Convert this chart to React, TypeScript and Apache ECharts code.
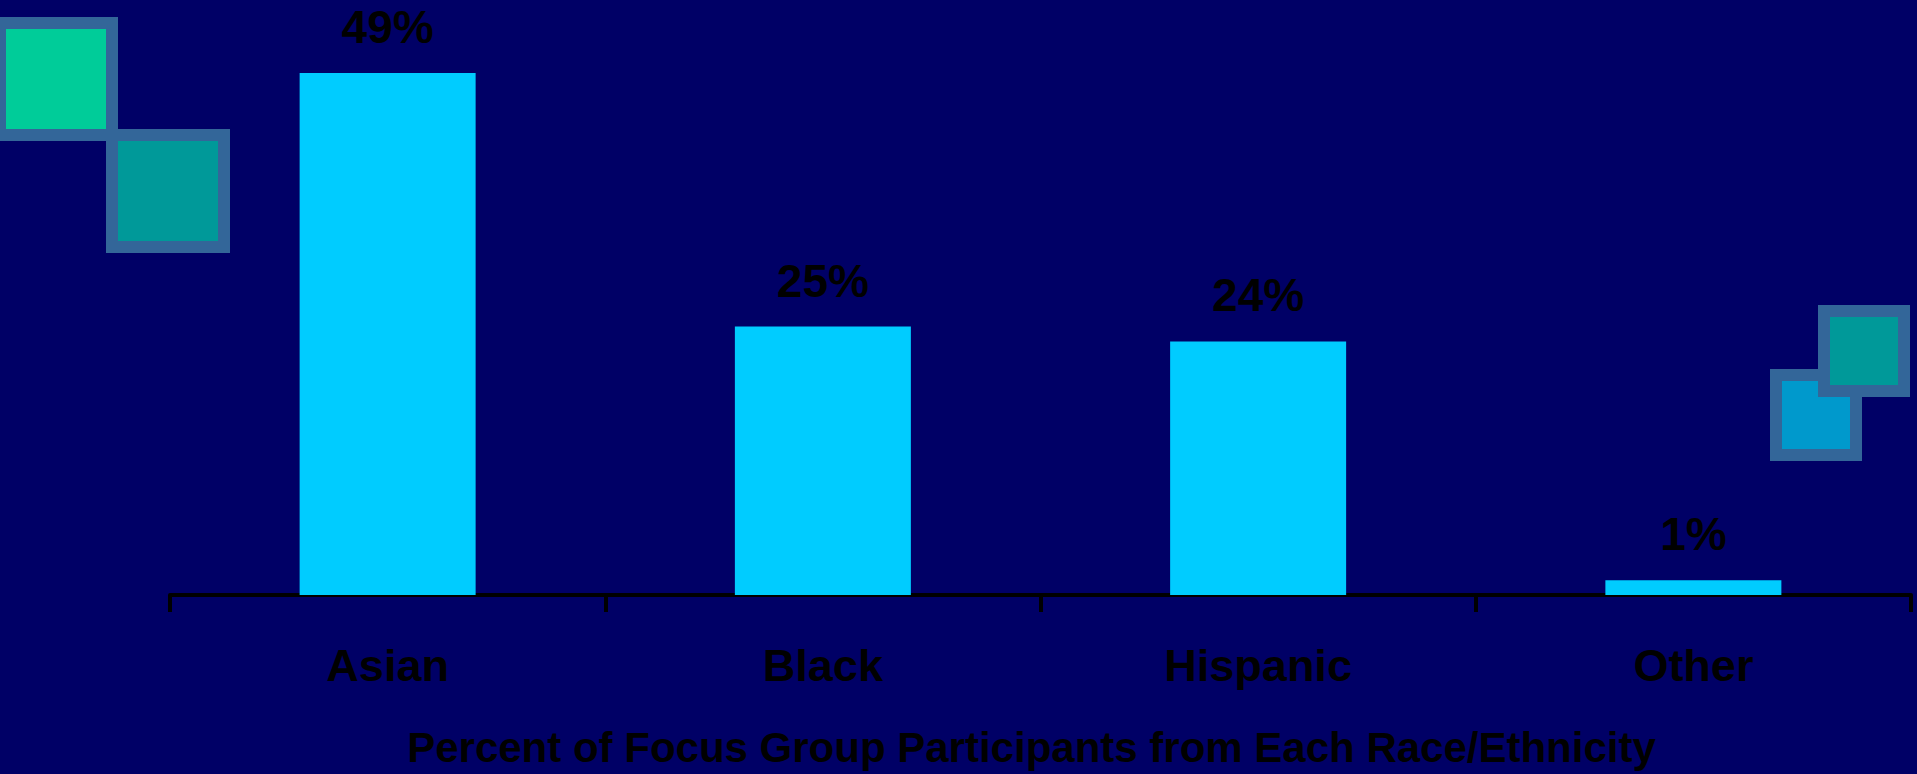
import React, { useEffect, useRef } from "react";
import * as echarts from "echarts";

const categories = ["Asian", "Black", "Hispanic", "Other"];
const percentValues = [49.2, 25.3, 23.9, 1.4];
const axisTitle = "Percent of Focus Group Participants from Each Race/Ethnicity";

const FONT = "'Liberation Sans', Arial, Helvetica, sans-serif";

export default function App() {
  const ref = useRef<HTMLDivElement>(null);

  useEffect(() => {
    if (!ref.current) return;
    const chart = echarts.init(ref.current, undefined, { renderer: "svg" });
    const square = (x: number, y: number, size: number, fill: string, z: number) => ({
      type: "rect",
      shape: { x, y, width: size, height: size },
      style: { fill, stroke: "#336699", lineWidth: 12 },
      z,
      silent: true,
    });
    chart.setOption({
      animation: false,
      backgroundColor: "#000066",
      grid: { left: 170, right: 6, top: 64.5, bottom: 179, containLabel: false },
      xAxis: {
        type: "category",
        data: categories,
        boundaryGap: true,
        axisLine: { show: true, lineStyle: { color: "#000000", width: 4 } },
        axisTick: { show: true, length: 17, lineStyle: { color: "#000000", width: 4 } },
        axisLabel: {
          margin: 48,
          color: "#000000",
          fontFamily: FONT,
          fontWeight: "bold",
          fontSize: 45,
        },
        name: axisTitle,
        nameLocation: "middle",
        nameGap: 131,
        nameTextStyle: {
          color: "#000000",
          fontFamily: FONT,
          fontWeight: "bold",
          fontSize: 42,
          padding: [0, 18, 0, 0],
        },
      },
      yAxis: {
        type: "value",
        min: 0,
        max: 50,
        show: false,
        splitLine: { show: false },
      },
      series: [
        {
          type: "bar",
          data: percentValues,
          barWidth: 176,
          itemStyle: { color: "#00CCFF" },
          label: {
            show: true,
            position: "top",
            distance: 28,
            lineHeight: 36,
            color: "#000000",
            fontFamily: FONT,
            fontWeight: "bold",
            fontSize: 46,
            formatter: (p: any) => `${Math.round(p.value)}%`,
          },
        },
      ],
      graphic: [
        square(0, 23, 112, "#00CC99", 10),
        square(112, 135, 112, "#009999", 11),
        square(1776, 375, 80, "#0099CC", 10),
        square(1824, 311, 80, "#009999", 11),
      ],
    });
    return () => chart.dispose();
  }, []);

  return (
    <div
      ref={ref}
      style={{
        position: "fixed",
        left: 0,
        top: 0,
        width: 1917,
        height: 774,
        background: "#000066",
      }}
    />
  );
}
